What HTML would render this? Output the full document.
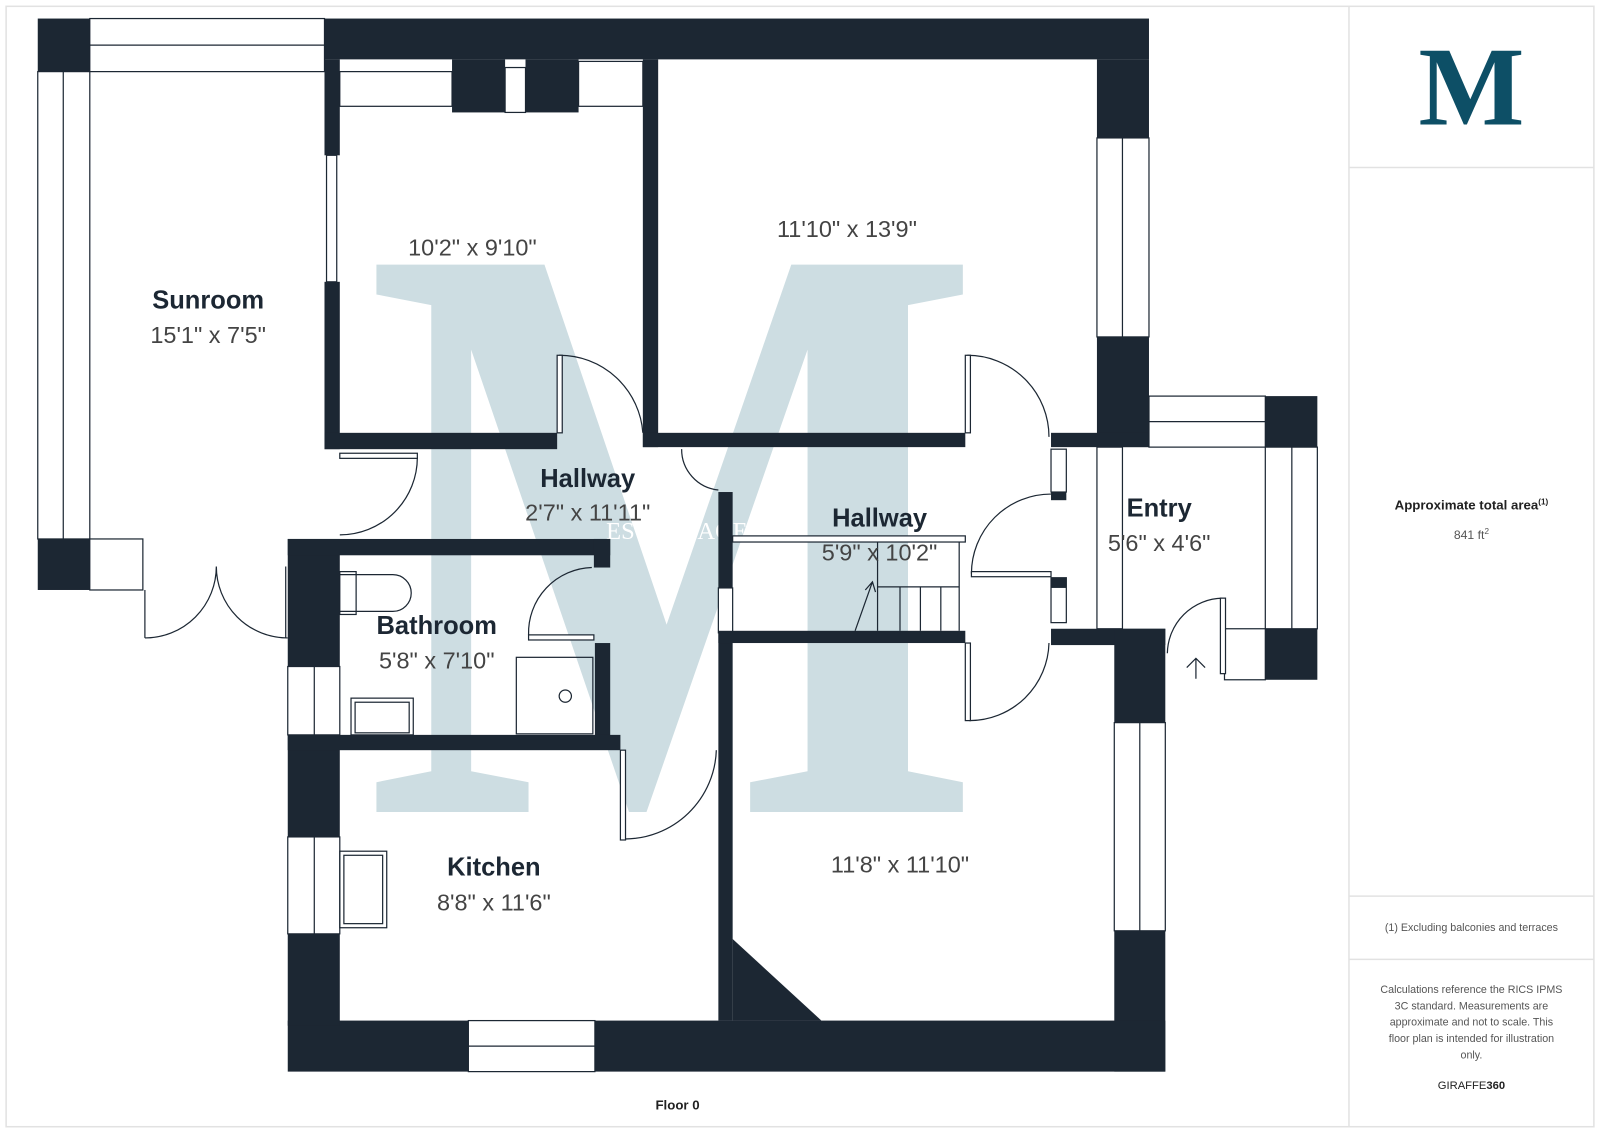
<!DOCTYPE html>
<html><head><meta charset="utf-8"><style>
html,body{margin:0;padding:0;background:#fff;}
svg{display:block}
text{font-family:"Liberation Sans",sans-serif}
</style></head><body>
<svg width="1600" height="1132" viewBox="0 0 1568 1109" xmlns="http://www.w3.org/2000/svg">
<rect x="6" y="6" width="1556" height="1098" fill="#fff" stroke="#e2e2e2" stroke-width="1.5"/>
<line x1="1322" y1="6" x2="1322" y2="1104" stroke="#e2e2e2" stroke-width="1.5"/>
<line x1="1322" y1="164" x2="1562" y2="164" stroke="#e2e2e2" stroke-width="1.5"/>
<line x1="1322" y1="878" x2="1562" y2="878" stroke="#e2e2e2" stroke-width="1.5"/>
<line x1="1322" y1="940" x2="1562" y2="940" stroke="#e2e2e2" stroke-width="1.5"/>
<!-- logo -->
<text x="1442" y="122" text-anchor="middle" font-size="110" font-weight="bold" fill="#0d4f66" style="font-family:'Liberation Serif',serif">M</text>
<text x="1442" y="499" text-anchor="middle" font-size="13" font-weight="bold" fill="#222">Approximate total area<tspan font-size="8" dy="-5">(1)</tspan></text>
<text x="1442" y="528" text-anchor="middle" font-size="12" fill="#555">841 ft<tspan font-size="8" dy="-5">2</tspan></text>
<text x="1442" y="912" text-anchor="middle" font-size="10.5" fill="#555">(1) Excluding balconies and terraces</text>
<g font-size="10.5" fill="#555" text-anchor="middle">
<text x="1442" y="973">Calculations reference the RICS IPMS</text>
<text x="1442" y="989">3C standard. Measurements are</text>
<text x="1442" y="1005">approximate and not to scale. This</text>
<text x="1442" y="1021">floor plan is intended for illustration</text>
<text x="1442" y="1037">only.</text>
</g>
<text x="1442" y="1067" text-anchor="middle" font-size="11" fill="#222">GIRAFFE<tspan font-weight="bold">360</tspan></text>
<text x="664" y="1087" text-anchor="middle" font-size="13" font-weight="bold" fill="#222">Floor 0</text>

<!-- watermark -->
<g transform="translate(0,-190) scale(1,1.28)">
<text x="660" y="770" text-anchor="middle" font-size="640" font-weight="bold" fill="#cddde2" style="font-family:'Liberation Serif',serif">M</text>
</g>
<text x="686" y="528" text-anchor="middle" font-size="24" fill="#fff" style="font-family:'Liberation Serif',serif">ESTATE AGENTS</text>

<g fill="#fff" stroke="#1c2733" stroke-width="1.2">
<rect x="88" y="18" width="230" height="52"/><line x1="88" y1="44" x2="318" y2="44"/>
<rect x="37" y="70" width="51" height="458"/><line x1="62" y1="70" x2="62" y2="528"/>
<rect x="88" y="528" width="52" height="50"/>
<rect x="1075" y="135" width="51" height="195"/><line x1="1100" y1="135" x2="1100" y2="330"/>
<rect x="1126" y="388" width="114" height="50"/><line x1="1126" y1="413" x2="1240" y2="413"/>
<rect x="1240" y="438" width="51" height="178"/><line x1="1266" y1="438" x2="1266" y2="616"/>
<rect x="1200" y="616" width="40" height="50"/>
<rect x="1092" y="708" width="50" height="204"/><line x1="1117" y1="708" x2="1117" y2="912"/>
<rect x="282" y="653" width="51" height="67"/><line x1="308" y1="653" x2="308" y2="720"/>
<rect x="282" y="820" width="51" height="95"/><line x1="308" y1="820" x2="308" y2="915"/>
<rect x="459" y="1000" width="124" height="50"/><line x1="459" y1="1025" x2="583" y2="1025"/>
<rect x="333" y="70" width="110" height="34"/>
<rect x="567" y="60" width="63" height="44"/>
<rect x="495" y="66" width="20" height="44"/>
<rect x="320" y="152" width="10" height="124"/>
<rect x="1030" y="440" width="15" height="42"/>
<rect x="1030" y="566" width="15" height="44"/>
<rect x="1075" y="438" width="25" height="178"/>
<rect x="704" y="576" width="14" height="44"/>
</g>
<g fill="#1c2733">
<rect x="37" y="18" width="51" height="52"/>
<rect x="37" y="528" width="51" height="50"/>
<rect x="318" y="18" width="808" height="40"/>
<rect x="443" y="58" width="52" height="52"/>
<rect x="515" y="58" width="52" height="52"/>
<rect x="318" y="58" width="15" height="94"/>
<rect x="318" y="276" width="15" height="164"/>
<rect x="318" y="424" width="228" height="16"/>
<rect x="630" y="58" width="15" height="380"/>
<rect x="630" y="424" width="316" height="14"/>
<rect x="1075" y="58" width="51" height="77"/>
<rect x="1075" y="330" width="51" height="108"/>
<rect x="1030" y="424" width="96" height="14"/>
<rect x="1240" y="388" width="51" height="50"/>
<rect x="1240" y="616" width="51" height="50"/>
<rect x="1030" y="616" width="112" height="16"/>
<rect x="1092" y="616" width="50" height="92"/>
<rect x="1092" y="912" width="50" height="138"/>
<rect x="282" y="1000" width="177" height="50"/>
<rect x="583" y="1000" width="559" height="50"/>
<rect x="282" y="528" width="51" height="125"/>
<rect x="282" y="720" width="51" height="100"/>
<rect x="282" y="915" width="51" height="90"/>
<rect x="282" y="528" width="316" height="16"/>
<rect x="582" y="528" width="16" height="28"/>
<rect x="583" y="630" width="15" height="92"/>
<rect x="282" y="720" width="326" height="15"/>
<rect x="704" y="482" width="14" height="94"/>
<rect x="704" y="620" width="14" height="380"/>
<rect x="704" y="618" width="242" height="12"/>
<polygon points="718,920 805,1000 718,1000"/>
<rect x="1030" y="482" width="15" height="8"/>
<rect x="1030" y="566" width="15" height="10"/>
</g>
<g fill="none" stroke="#1c2733" stroke-width="1.2">
<path d="M548 348 A82 82 0 0 1 630 424"/><rect x="546" y="348" width="5" height="76" fill="#fff"/>
<path d="M333 524 A76 76 0 0 0 409 448"/><rect x="333" y="444" width="76" height="5" fill="#fff"/>
<path d="M142 625 A70 70 0 0 0 212 555 A70 70 0 0 0 282 625"/>
<line x1="142" y1="578" x2="142" y2="625"/><line x1="280" y1="555" x2="280" y2="625"/>
<path d="M948 348 A80 80 0 0 1 1028 428"/><rect x="946" y="348" width="5" height="76" fill="#fff"/>
<path d="M1030 484 A78 78 0 0 0 952 562"/><rect x="952" y="560" width="78" height="5" fill="#fff"/>
<path d="M1028 630 A78 78 0 0 1 950 706"/><rect x="946" y="630" width="5" height="76" fill="#fff"/>
<path d="M668 440 A40 40 0 0 0 704 480"/>
<path d="M580 556 A64 64 0 0 0 518 622"/><rect x="518" y="622" width="64" height="5" fill="#fff"/>
<path d="M612 822 A90 90 0 0 0 702 735"/><rect x="608" y="735" width="5" height="88" fill="#fff"/>
<path d="M1198 586 A55 55 0 0 0 1144 640"/><rect x="1196" y="586" width="5" height="74" fill="#fff"/>
<path d="M1172 665 V645 M1163 654 L1172 645 L1181 654"/>
<rect x="718" y="525" width="228" height="6" fill="#fff"/>
<line x1="860" y1="531" x2="860" y2="618"/><line x1="882" y1="575" x2="882" y2="618"/><line x1="902" y1="575" x2="902" y2="618"/><line x1="922" y1="575" x2="922" y2="618"/><line x1="940" y1="531" x2="940" y2="618"/>
<line x1="860" y1="575" x2="940" y2="575"/><path d="M838 618 L855 570 M848 578 L855 570 L858 580"/>
<path d="M333 563 H385 A18 18 0 0 1 385 599 H333"/><rect x="333" y="560" width="16" height="42"/>
<rect x="344" y="684" width="61" height="36"/><rect x="348" y="688" width="53" height="30"/>
<rect x="506" y="644" width="75" height="75"/><circle cx="554" cy="682" r="6"/>
<rect x="333" y="834" width="46" height="75"/><rect x="337" y="838" width="38" height="67"/>
</g>
<g fill="#1c2733" text-anchor="middle">
<text x="204" y="302" font-size="25" font-weight="bold">Sunroom</text>
<text x="204" y="336" font-size="23" fill="#444">15'1" x 7'5"</text>
<text x="463" y="250" font-size="23" fill="#444">10'2" x 9'10"</text>
<text x="830" y="232" font-size="23" fill="#444">11'10" x 13'9"</text>
<text x="576" y="477" font-size="25" font-weight="bold">Hallway</text>
<text x="576" y="510" font-size="23" fill="#444">2'7" x 11'11"</text>
<text x="862" y="516" font-size="25" font-weight="bold">Hallway</text>
<text x="862" y="549" font-size="23" fill="#444">5'9" x 10'2"</text>
<text x="1136" y="506" font-size="25" font-weight="bold">Entry</text>
<text x="1136" y="540" font-size="23" fill="#444">5'6" x 4'6"</text>
<text x="428" y="621" font-size="25" font-weight="bold">Bathroom</text>
<text x="428" y="655" font-size="23" fill="#444">5'8" x 7'10"</text>
<text x="484" y="858" font-size="25" font-weight="bold">Kitchen</text>
<text x="484" y="892" font-size="23" fill="#444">8'8" x 11'6"</text>
<text x="882" y="855" font-size="23" fill="#444">11'8" x 11'10"</text>
</g>
</svg>
</body></html>
